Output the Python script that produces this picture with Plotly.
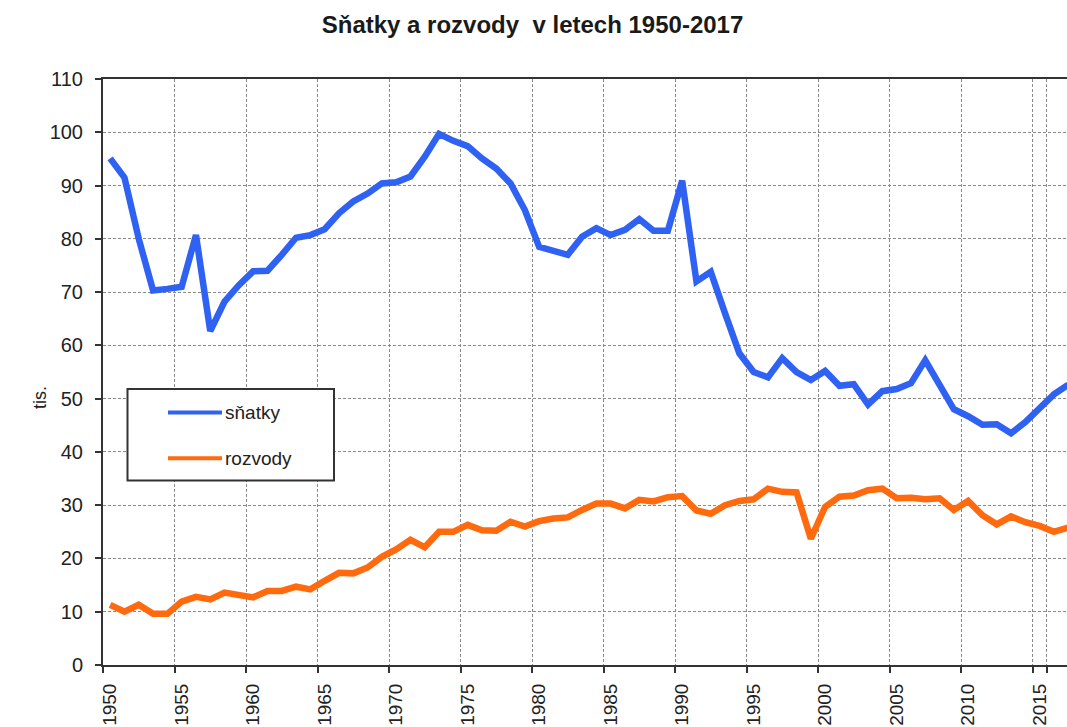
import plotly.graph_objects as go

years = [str(y) for y in range(1950, 2018)]

snatky = [95.1, 91.5, 80.0, 70.3, 70.6, 71.0, 80.7, 62.7, 68.2, 71.3,
          73.9, 74.0, 77.0, 80.2, 80.7, 81.8, 84.8, 87.0, 88.5, 90.4,
          90.6, 91.7, 95.4, 99.7, 98.4, 97.4, 95.1, 93.2, 90.4, 85.4,
          78.5, 77.6, 77.0, 80.4, 82.0, 80.7, 81.7, 83.7, 81.5, 81.5,
          90.9, 72.0, 73.8, 66.0, 58.5, 55.0, 54.0, 57.6, 55.0, 53.5,
          55.2, 52.4, 52.7, 48.9, 51.4, 51.8, 52.9, 57.2, 52.5, 48.0,
          46.7, 45.1, 45.2, 43.5, 45.6, 48.2, 50.8, 52.6]

rozvody = [11.3, 10.0, 11.3, 9.6, 9.6, 11.9, 12.8, 12.3, 13.6, 13.1,
           12.7, 13.9, 13.9, 14.7, 14.2, 15.8, 17.3, 17.2, 18.3, 20.3,
           21.7, 23.5, 22.1, 25.0, 25.0, 26.3, 25.3, 25.2, 26.9, 26.0,
           27.0, 27.5, 27.7, 29.1, 30.3, 30.3, 29.4, 31.0, 30.7, 31.5,
           31.7, 29.0, 28.4, 30.0, 30.8, 31.1, 33.1, 32.5, 32.4, 23.7,
           29.7, 31.6, 31.8, 32.8, 33.1, 31.3, 31.4, 31.1, 31.3, 29.1,
           30.8, 28.1, 26.4, 27.9, 26.8, 26.1, 25.0, 25.8]

tick_years = [str(y) for y in range(1950, 2018, 5)]
y_ticks = list(range(0, 111, 10))

series_names = ["sňatky", "rozvody"]
colors = ["#2f62f2", "#ff6a0e"]

W, H = 1067, 727
ML, MR, MT, MB = 103, 0, 79, 62
PW, PH = W - ML - MR, H - MT - MB
cat_w = 14.3


def px2x(px):
    return (px - ML) / PW


def px2y(py):
    return (H - MB - py) / PH


fig = go.Figure()
for name, vals, col in zip(series_names, [snatky, rozvody], colors):
    fig.add_trace(go.Scatter(x=years, y=vals, mode="lines", name=name,
                             line=dict(color=col, width=6.5),
                             showlegend=False))

font_family = "Liberation Sans, Arial, sans-serif"

fig.update_layout(
    width=W, height=H,
    margin=dict(l=ML, r=MR, t=MT, b=MB, autoexpand=False),
    paper_bgcolor="white", plot_bgcolor="white",
    title=dict(text="<b>Sňatky a rozvody  v letech 1950-2017</b>",
               x=532.5 / W, xanchor="center", xref="container",
               y=1 - 25 / H, yanchor="middle", yref="container",
               font=dict(family=font_family, size=24, color="#1a1a1a")),
    font=dict(family=font_family, color="#222"),
    xaxis=dict(type="category", tickson="boundaries",
               tickmode="array", tickvals=tick_years, ticktext=tick_years,
               range=[-0.5, -0.5 + PW / cat_w],
               tickangle=-90, tickfont=dict(size=19, color="#222"),
               ticks="outside", ticklen=6, tickwidth=2, tickcolor="#333",
               showline=True, linecolor="#333", linewidth=2, mirror=True,
               showgrid=True, gridcolor="#8a8a8a", gridwidth=1,
               griddash="3px,2px", ticklabelstandoff=9, automargin=False),
    yaxis=dict(range=[0, 110], tickmode="array", tickvals=y_ticks,
               tickfont=dict(size=20, color="#222"),
               ticks="outside", ticklen=6, tickwidth=2, tickcolor="#333",
               showline=True, linecolor="#333", linewidth=2,
               showgrid=True, gridcolor="#8a8a8a", gridwidth=1,
               griddash="3px,2px", zeroline=False,
               ticklabelstandoff=8, automargin=False),
)

# y-axis title
fig.add_annotation(text="tis.", xref="paper", yref="paper",
                   x=px2x(40), y=px2y(397), textangle=-90, showarrow=False,
                   font=dict(size=18, color="#222"),
                   xanchor="center", yanchor="middle")

# legend box (drawn manually to match the boxed legend)
fig.add_shape(type="rect", xref="paper", yref="paper",
              x0=px2x(127.5), x1=px2x(334), y0=px2y(389), y1=px2y(480.5),
              line=dict(color="#333", width=2), fillcolor="white", layer="above")
for i, (name, col) in enumerate(zip(series_names, colors)):
    ly = [412.5, 458.3][i]
    fig.add_shape(type="line", xref="paper", yref="paper",
                  x0=px2x(168), x1=px2x(222), y0=px2y(ly), y1=px2y(ly),
                  line=dict(color=col, width=4), layer="above")
    fig.add_annotation(text=name, xref="paper", yref="paper",
                       x=px2x(223), y=px2y(ly), showarrow=False,
                       xanchor="left", yanchor="middle",
                       font=dict(size=19, color="#222"))

fig.write_html(
    "out.html",
    config={"displayModeBar": False},
    post_script="document.body.style.margin='0';"
                "document.body.style.overflow='hidden';",
)
